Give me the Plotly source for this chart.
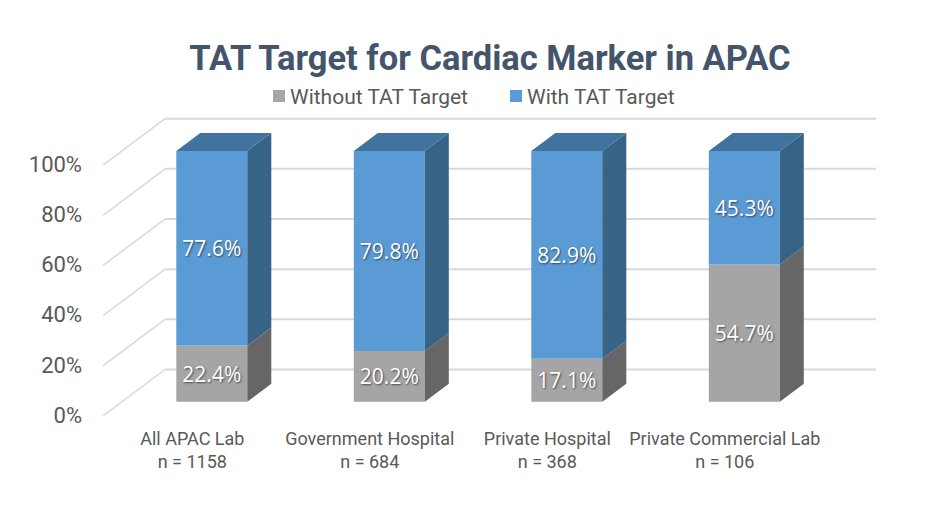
import plotly.graph_objects as go

categories = ["All APAC Lab", "Government Hospital", "Private Hospital", "Private Commercial Lab"]
sample_sizes = [1158, 684, 368, 106]
without_target = [22.4, 20.2, 17.1, 54.7]
with_target = [77.6, 79.8, 82.9, 45.3]
y_ticks = [0, 20, 40, 60, 80, 100]
y_tick_labels = ["0%", "20%", "40%", "60%", "80%", "100%"]

WIDTH, HEIGHT = 938, 519
PX_Y = 2.51          # px per percent
PX_X = 177.5         # px per category
X0_PX = 211.8
LEFT_PX, RIGHT_PX = 103, 876
Y0_PX = 416
Y_LO, Y_HI = -4, 122
BAR_W = 0.40
BAR_BASE = 5.7
DEPTH_X, DEPTH_Y = 24 / PX_X, 18 / PX_Y
WALL_X, WALL_Y = 62 / PX_X, 46.5 / PX_Y
LABEL_OFFSET = 19.5 / PX_X

x_lo = (LEFT_PX - X0_PX) / PX_X
x_hi = (RIGHT_PX - X0_PX) / PX_X
xs = list(range(len(categories)))
base_lower = [BAR_BASE] * len(xs)
base_upper = [BAR_BASE + v for v in without_target]


def side_faces(bases, values):
    px, py = [], []
    for x, b, v in zip(xs, bases, values):
        r = x + BAR_W / 2
        px += [r, r + DEPTH_X, r + DEPTH_X, r, r, None]
        py += [b, b + DEPTH_Y, b + v + DEPTH_Y, b + v, b, None]
    return px, py


def top_faces(bases, values):
    px, py = [], []
    for x, b, v in zip(xs, bases, values):
        l, r, t = x - BAR_W / 2, x + BAR_W / 2, b + v
        px += [l, r, r + DEPTH_X, l + DEPTH_X, l, None]
        py += [t, t, t + DEPTH_Y, t + DEPTH_Y, t, None]
    return px, py


fig = go.Figure()

label_font = dict(family="Open Sans", size=21, color="white", shadow="1px 1px 2px rgba(0,0,0,0.55)")
fig.add_trace(go.Bar(
    x=xs, y=without_target, base=base_lower, width=BAR_W, name="Without TAT Target",
    marker=dict(color="#A5A5A5", line=dict(width=0)), legend="legend",
    text=[f"{v:.1f}%" for v in without_target], textposition="inside", insidetextanchor="middle",
    textangle=0, insidetextfont=label_font, hoverinfo="skip",
))
fig.add_trace(go.Bar(
    x=xs, y=with_target, base=base_upper, width=BAR_W, name="With TAT Target",
    marker=dict(color="#5B9BD5", line=dict(width=0)), legend="legend2",
    text=[f"{v:.1f}%" for v in with_target], textposition="inside", insidetextanchor="middle",
    textangle=0, insidetextfont=label_font, hoverinfo="skip",
))

for (fx, fy), colour in [
    (side_faces(base_lower, without_target), "#666666"),
    (side_faces(base_upper, with_target), "#376387"),
    (top_faces(base_upper, with_target), "#41739F"),
]:
    fig.add_trace(go.Scatter(x=fx, y=fy, mode="lines", fill="toself", fillcolor=colour,
                             line=dict(width=0, color=colour), showlegend=False, hoverinfo="skip"))

shapes = []
for v in y_ticks:
    shapes.append(dict(type="line", xref="x", yref="y", layer="below",
                       x0=x_lo, y0=v, x1=x_lo + WALL_X, y1=v + WALL_Y,
                       line=dict(color="#D9D9D9", width=1.5)))
    shapes.append(dict(type="line", xref="x", yref="y", layer="below",
                       x0=x_lo + WALL_X, y0=v + WALL_Y, x1=x_hi, y1=v + WALL_Y,
                       line=dict(color="#D9D9D9", width=2)))

plot_bottom = Y0_PX - Y_LO * PX_Y
plot_top = Y0_PX - Y_HI * PX_Y
legend_font = dict(family="Roboto", size=21, color="#595959")
legend_y = 1 + (plot_top - 96) / (plot_bottom - plot_top)


def legend_x(px):
    return (px - LEFT_PX) / (RIGHT_PX - LEFT_PX)


fig.update_layout(
    width=WIDTH, height=HEIGHT, autosize=False,
    paper_bgcolor="white", plot_bgcolor="rgba(0,0,0,0)",
    margin=dict(l=LEFT_PX, r=WIDTH - RIGHT_PX, t=plot_top, b=HEIGHT - plot_bottom, autoexpand=False),
    barmode="overlay", shapes=shapes,
    title=dict(text="<b>TAT Target for Cardiac Marker in APAC</b>", x=490 / WIDTH, xanchor="center",
               y=1 - 58 / HEIGHT, yanchor="middle", font=dict(family="Roboto", size=34.5, color="#44546A")),
    xaxis=dict(range=[x_lo, x_hi], tickmode="array", tickvals=[x - LABEL_OFFSET for x in xs],
               ticktext=[f"{c}<br>n = {n}" for c, n in zip(categories, sample_sizes)],
               showgrid=False, zeroline=False, showline=False, ticks="",
               tickfont=dict(family="Roboto", size=18, color="#595959"), ticklabelstandoff=0),
    yaxis=dict(range=[Y_LO, Y_HI], tickmode="array", tickvals=y_ticks, ticktext=y_tick_labels,
               showgrid=False, zeroline=False, showline=False, ticks="",
               tickfont=dict(family="Roboto", size=22, color="#595959"),
               ticklabelstandoff=20, ticklabelshift=-1),
    legend=dict(orientation="h", x=legend_x(258), y=legend_y, xanchor="left", yanchor="middle",
                font=legend_font, bgcolor="rgba(0,0,0,0)", indentation=-8),
    legend2=dict(orientation="h", x=legend_x(495), y=legend_y, xanchor="left", yanchor="middle",
                 font=legend_font, bgcolor="rgba(0,0,0,0)", indentation=-8),
)

post = """
document.body.style.margin='0';
document.querySelectorAll('.infolayer .traces .layers').forEach(function(g){
  g.setAttribute('transform', (g.getAttribute('transform') || '') + ' translate(9,0)');
});
"""
fig.write_html("out.html", config=dict(displayModeBar=False), post_script=post)
